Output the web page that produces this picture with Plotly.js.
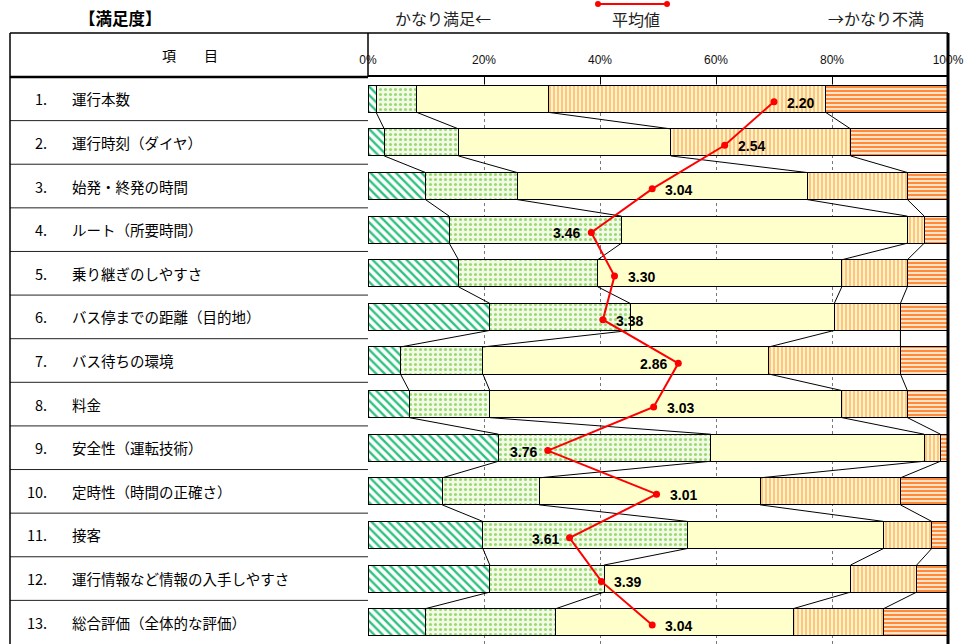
<!DOCTYPE html>
<html>
<head>
<meta charset="utf-8">
<script src="https://cdn.plot.ly/plotly-3.0.1.min.js"></script>
<style>
  html, body { margin: 0; padding: 0; background: #fff; }
  #chart { width: 971px; height: 644px; }
</style>
</head>
<body>
<div id="chart"></div>
<script>
// items, top to bottom
const items = [
    '運行本数',
    '運行時刻（ダイヤ）',
    '始発・終発の時間',
    'ルート（所要時間）',
    '乗り継ぎのしやすさ',
    'バス停までの距離（目的地）',
    'バス待ちの環境',
    '料金',
    '安全性（運転技術）',
    '定時性（時間の正確さ）',
    '接客',
    '運行情報など情報の入手しやすさ',
    '総合評価（全体的な評価）'
]

// shares in %
const verySatisfied = [1.4, 2.8, 9.9, 14.0, 15.6, 21.0, 5.6, 7.1, 22.5, 12.8, 19.8, 21.0, 9.9]
const satisfied = [7.0, 12.8, 15.8, 29.7, 24.0, 24.2, 14.2, 13.9, 36.6, 16.7, 35.3, 19.7, 22.5]
const neutral = [22.7, 36.6, 50.0, 49.3, 42.1, 35.2, 49.3, 60.7, 36.8, 38.1, 33.8, 42.5, 40.9]
const dissatisfied = [47.8, 31.0, 17.3, 2.9, 11.3, 11.4, 22.7, 11.3, 2.8, 24.2, 8.3, 11.4, 15.6]
const veryDissatisfied = [21.1, 16.8, 7.0, 4.1, 7.0, 8.2, 8.2, 7.0, 1.3, 8.2, 2.8, 5.4, 11.1]

// mean score (5 = very satisfied ... 1 = very dissatisfied)
const averages = [2.20, 2.54, 3.04, 3.46, 3.30, 3.38, 2.86, 3.03, 3.76, 3.01, 3.61, 3.39, 3.04]
const labelLeft = [false, false, false, true, false, false, true, false, true, false, true, false, false]

// x axis ticks
const tickValues = [0, 20, 40, 60, 80, 100]
const tickLabels = ['0%', '20%', '40%', '60%', '80%', '100%']

const rows = items.map((_, i) => i)
const series = [verySatisfied, satisfied, neutral, dissatisfied, veryDissatisfied]

const BAR_W = 0.62
const JP = '"Noto Sans CJK JP", sans-serif'

// plot area in pixels: x 368..948, y 77..644
const px = X => (X - 368) / 580
const py = Y => (644 - Y) / 567

const patterns = [
    {shape: '\\', fgcolor: '#2FC27F', bgcolor: '#ffffff', size: 6, solidity: 0.4},
    {shape: '.', fgcolor: '#9ADB70', bgcolor: '#F3FBE8', size: 5, solidity: 0.3},
    null,
    {shape: '|', fgcolor: '#FFC870', bgcolor: '#FFF1D6', size: 4, solidity: 0.5},
    {shape: '-', fgcolor: '#FF8A3A', bgcolor: '#FFE3C8', size: 4, solidity: 0.5},
]

const barTraces = series.map((vals, k) => {
    const marker = {color: '#FFFFCC', line: {color: '#000', width: 1}}
    if (patterns[k]) marker.pattern = Object.assign({fillmode: 'replace'}, patterns[k])
    return {
        type: 'bar',
        orientation: 'h',
        x: vals,
        y: rows,
        width: BAR_W,
        marker: marker,
        hoverinfo: 'skip',
        showlegend: false,
    }
})

// series lines joining the boundaries of neighbouring bars
const cum = rows.map(i => {
    let s = 0
    return series.map(vals => (s += vals[i]))
})
const linkX = [], linkY = []
for (let i = 0; i < rows.length - 1; i++) {
    for (let k = 0; k < 4; k++) {
        linkX.push(cum[i][k], cum[i + 1][k], null)
        linkY.push(i + BAR_W / 2, i + 1 - BAR_W / 2, null)
    }
}
const linkTrace = {
    type: 'scatter',
    mode: 'lines',
    x: linkX,
    y: linkY,
    line: {color: '#000', width: 1},
    hoverinfo: 'skip',
    showlegend: false,
}

const avgTrace = {
    type: 'scatter',
    mode: 'lines+markers',
    x: averages,
    y: rows,
    xaxis: 'x2',
    yaxis: 'y2',
    line: {color: '#FF0000', width: 2},
    marker: {color: '#FF0000', size: 7},
    hoverinfo: 'skip',
    showlegend: false,
}

const annotations = []
const shapes = []

// average value labels
averages.forEach((v, i) => {
    annotations.push({
        xref: 'x2', yref: 'y2', x: v, y: i,
        text: v.toFixed(2),
        showarrow: false,
        xanchor: labelLeft[i] ? 'right' : 'left',
        yanchor: 'middle',
        xshift: labelLeft[i] ? -9 : 11,
        yshift: -1,
        font: {family: 'Arial, "Liberation Sans", sans-serif', size: 14, color: '#000', weight: 'bold'},
    })
})

// row labels in the table
items.forEach((name, i) => {
    annotations.push({
        xref: 'paper', yref: 'y', x: px(49), y: i,
        text: (i + 1) + '.', showarrow: false, xanchor: 'right', yanchor: 'middle',
        font: {family: JP, size: 14.5, color: '#000'},
    })
    annotations.push({
        xref: 'paper', yref: 'y', x: px(70), y: i,
        text: name, showarrow: false, xanchor: 'left', yanchor: 'middle',
        font: {family: JP, size: 14.5, color: '#000'},
    })
    if (i < rows.length - 1) {
        shapes.push({
            type: 'line', xref: 'paper', yref: 'y',
            x0: px(10), x1: 0, y0: i + 0.5, y1: i + 0.5,
            line: {color: '#222', width: 1},
        })
    }
})

// header texts
const head = (X, Y, text, font) => ({
    xref: 'paper', yref: 'paper', x: px(X), y: py(Y), text: text, showarrow: false,
    xanchor: 'center', yanchor: 'middle', font: font,
})
annotations.push(
    head(120, 18, '【満足度】', {family: JP, size: 16.5, color: '#000', weight: 'bold'}),
    head(443, 18, 'かなり満足←', {family: JP, size: 16, color: '#222'}),
    head(636, 19, '平均値', {family: JP, size: 16, color: '#222'}),
    head(876, 18, '→かなり不満', {family: JP, size: 16, color: '#222'}),
    head(190, 55, '項　　目', {family: JP, size: 14, color: '#000'})
)

// table frame and legend sample
shapes.push(
    {type: 'line', xref: 'paper', yref: 'paper', x0: px(10), x1: 1, y0: py(33), y1: py(33), line: {color: '#000', width: 1.5}},
    {type: 'line', xref: 'paper', yref: 'paper', x0: px(10), x1: px(10), y0: py(33), y1: 0, line: {color: '#000', width: 1.5}},
    {type: 'line', xref: 'paper', yref: 'paper', x0: 0, x1: 0, y0: py(33), y1: 1, line: {color: '#000', width: 1.5}},
    {type: 'line', xref: 'paper', yref: 'paper', x0: px(10), x1: 0, y0: 1, y1: 1, line: {color: '#000', width: 2.5}},
    {type: 'line', xref: 'paper', yref: 'paper', x0: 1, x1: 1, y0: py(33), y1: 0, line: {color: '#000', width: 3}},
    {type: 'line', xref: 'paper', yref: 'paper', x0: px(598), x1: px(667), y0: py(4), y1: py(4), line: {color: '#FF0000', width: 2}},
    {type: 'circle', xref: 'paper', yref: 'paper', x0: px(595), x1: px(601), y0: py(1), y1: py(7), fillcolor: '#FF0000', line: {width: 0}},
    {type: 'circle', xref: 'paper', yref: 'paper', x0: px(664), x1: px(670), y0: py(1), y1: py(7), fillcolor: '#FF0000', line: {width: 0}}
)

const layout = {
    width: 971,
    height: 644,
    margin: {l: 368, r: 23, t: 77, b: 0, pad: 0},
    paper_bgcolor: '#fff',
    plot_bgcolor: '#fff',
    barmode: 'stack',
    showlegend: false,
    xaxis: {
        side: 'top',
        range: [0, 100],
        tickmode: 'array',
        tickvals: tickValues,
        ticktext: tickLabels,
        ticks: 'inside',
        ticklen: 7,
        tickcolor: '#000',
        tickwidth: 1,
        ticklabelstandoff: 6,
        tickfont: {family: 'Arial, "Liberation Sans", sans-serif', size: 12, color: '#111'},
        showgrid: true,
        gridcolor: '#777',
        griddash: 'dot',
        gridwidth: 1,
        zeroline: false,
        showline: true,
        linecolor: '#000',
        linewidth: 2,
        fixedrange: true,
    },
    xaxis2: {
        overlaying: 'x',
        range: [5, 1],
        visible: false,
        fixedrange: true,
    },
    yaxis: {
        range: [12.5, -0.5],
        showticklabels: false,
        showgrid: false,
        zeroline: false,
        ticks: '',
        fixedrange: true,
    },
    yaxis2: {
        overlaying: 'y',
        range: [12.435, -0.565],
        visible: false,
        fixedrange: true,
    },
    shapes: shapes,
    annotations: annotations,
}

Plotly.newPlot('chart', [linkTrace].concat(barTraces, [avgTrace]), layout, {displayModeBar: false, staticPlot: true})
</script>
</body>
</html>
